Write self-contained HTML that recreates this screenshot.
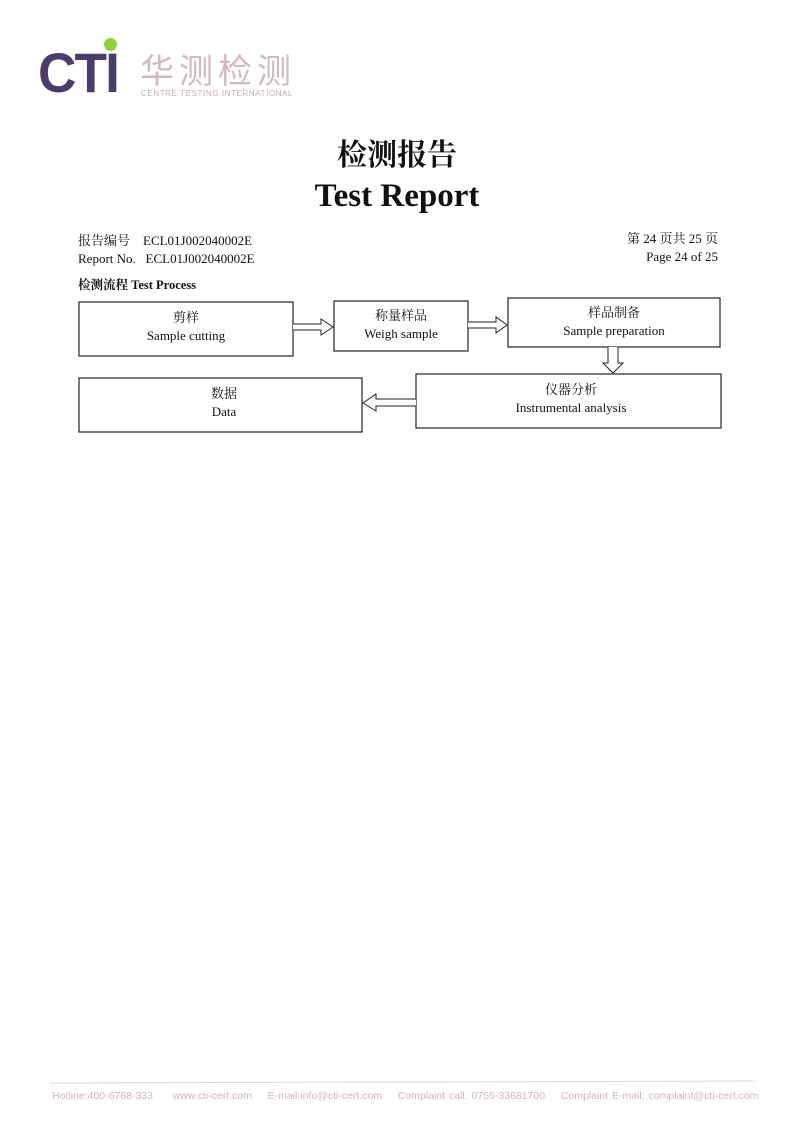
<!DOCTYPE html>
<html><head><meta charset="utf-8"><style>
html,body{margin:0;padding:0;background:#fff}
body{width:794px;height:1126px;position:relative;overflow:hidden;font-family:"Liberation Serif","Noto Serif CJK SC",serif;color:#111}
.a{position:absolute;white-space:nowrap}
</style></head><body>
<div class="a" style="left:38px;top:48px;font-family:'Liberation Sans',sans-serif;font-weight:bold;font-size:56px;color:#4a3d6e;letter-spacing:-2px;transform:scaleX(0.95);transform-origin:left;line-height:50px">CTI</div>
<div class="a" style="left:104px;top:38px;width:13px;height:13px;border-radius:50%;background:#8ed13a"></div>
<div class="a" style="left:140px;top:50px;font-family:'Noto Sans CJK SC',sans-serif;font-size:34px;color:#d4b8c0;letter-spacing:5px;line-height:38px">华测检测</div>
<div class="a" style="left:141px;top:89px;font-family:'Liberation Sans',sans-serif;font-size:8px;color:#c8a8b0;letter-spacing:0.6px">CENTRE TESTING INTERNATIONAL</div>

<div class="a" style="left:0;width:794px;text-align:center;top:132px;font-family:'Noto Serif CJK SC',serif;font-weight:bold;font-size:30px;line-height:40px">检测报告</div>
<div class="a" style="left:0;width:794px;text-align:center;top:176px;font-weight:bold;font-size:33px;line-height:40px">Test Report</div>

<div class="a" style="left:78px;top:232px;font-size:13px;line-height:18px">报告编号&nbsp;&nbsp;&nbsp;&nbsp;ECL01J002040002E</div>
<div class="a" style="left:78px;top:250px;font-size:13px;line-height:18px">Report No.&nbsp;&nbsp;&nbsp;ECL01J002040002E</div>
<div class="a" style="right:76px;top:230px;font-size:13px;line-height:18px;text-align:right">第 24 页共 25 页<br>Page 24 of 25</div>
<div class="a" style="left:78px;top:276px;font-size:12.5px;font-weight:bold;line-height:18px">检测流程 Test Process</div>

<svg class="a" style="left:0;top:0" width="794" height="1126">
<g fill="#fff" stroke="#222" stroke-width="1.2">
<rect x="79" y="302" width="214" height="54"/>
<rect x="334" y="301" width="134" height="50"/>
<rect x="508" y="298" width="212" height="49"/>
<rect x="416" y="374" width="305" height="54"/>
<rect x="79" y="378" width="283" height="54"/>
</g>
<g fill="#fff" stroke="#222" stroke-width="1">
<path d="M293,324 H321 V319 L333,327 L321,335 V330 H293"/>
<path d="M468,322 H496 V317 L507,325 L496,333 V328 H468"/>
<path d="M608,347 V363 H603 L613,373 L623,363 H618 V347"/>
<path d="M416,399 H376 V394 L363,403 L376,411 V406 H416"/>
</g>
<g font-family="'Liberation Serif','Noto Serif CJK SC',serif" font-size="13" text-anchor="middle" fill="#111">
<text x="186" y="322">剪样</text><text x="186" y="340">Sample cutting</text>
<text x="401" y="320">称量样品</text><text x="401" y="338">Weigh sample</text>
<text x="614" y="317">样品制备</text><text x="614" y="335">Sample preparation</text>
<text x="571" y="394">仪器分析</text><text x="571" y="412">Instrumental analysis</text>
<text x="224" y="398">数据</text><text x="224" y="416">Data</text>
</g>
<line x1="50" y1="1083" x2="755" y2="1081" stroke="#e4d4d8" stroke-width="1"/>
</svg>
<div class="a" style="left:52px;top:1090px;font-family:'Liberation Sans',sans-serif;font-size:10.5px;color:#d0b4bc;word-spacing:1px">Hotline:400-6788-333&nbsp;&nbsp;&nbsp;&nbsp;&nbsp;www.cti-cert.com&nbsp;&nbsp;&nbsp;&nbsp;E-mail:info@cti-cert.com&nbsp;&nbsp;&nbsp;&nbsp;Complaint call: 0755-33681700&nbsp;&nbsp;&nbsp;&nbsp;Complaint E-mail: complaint@cti-cert.com</div>
</body></html>
